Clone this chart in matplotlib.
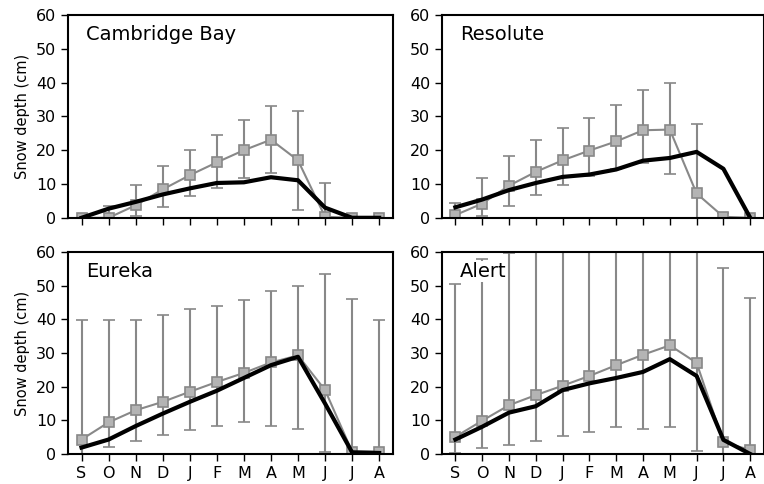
import numpy as np
import matplotlib
matplotlib.use("Agg")
import matplotlib.pyplot as plt

months = ["S", "O", "N", "D", "J", "F", "M", "A", "M", "J", "J", "A"]
stations = ["Cambridge Bay", "Resolute", "Eureka", "Alert"]

# gray series (obs mean) with error bar limits, black series (model)
cb_mean = [0.0, 0.0, 3.7, 8.4, 12.6, 16.4, 20.0, 23.1, 17.0, 0.3, 0.0, 0.0]
cb_low = [0.0, 0.0, 0.5, 3.3, 6.4, 8.9, 11.9, 13.3, 2.3, 0.0, 0.0, 0.0]
cb_high = [0.0, 3.5, 9.8, 15.2, 20.0, 24.6, 29.0, 33.2, 31.5, 10.4, 0.0, 0.0]
cb_model = [0.0, 2.7, 4.7, 6.9, 8.7, 10.3, 10.5, 12.0, 11.1, 3.0, 0.0, 0.0]

re_mean = [0.8, 4.2, 9.5, 13.6, 17.0, 19.9, 22.6, 25.9, 26.1, 7.2, 0.3, 0.0]
re_low = [0.0, 0.5, 3.6, 6.6, 9.6, 12.5, 14.5, 16.2, 13.1, 0.0, 0.0, 0.0]
re_high = [4.4, 11.8, 18.2, 22.9, 26.7, 29.5, 33.4, 37.7, 39.9, 27.7, 1.5, 0.0]
re_model = [3.1, 5.4, 8.2, 10.3, 12.1, 12.8, 14.3, 16.9, 17.7, 19.5, 14.5, 0.0]

eu_mean = [4.3, 9.4, 13.0, 15.5, 18.5, 21.4, 24.1, 27.2, 29.3, 19.0, 0.7, 0.7]
eu_low = [0.0, 2.2, 4.0, 5.6, 7.1, 8.4, 9.5, 8.4, 7.5, 0.7, 0.0, 0.0]
eu_high = [39.9, 39.9, 39.9, 41.2, 43.1, 43.9, 45.9, 48.4, 49.8, 53.5, 46.2, 39.9]
eu_model = [1.9, 4.3, 8.3, 12.0, 15.5, 18.8, 22.6, 26.4, 28.9, 15.0, 0.5, 0.3]

al_mean = [5.1, 9.9, 14.5, 17.5, 20.3, 23.2, 26.4, 29.5, 32.3, 27.1, 3.5, 1.2]
al_low = [0.4, 1.9, 2.7, 4.0, 5.3, 6.5, 8.0, 7.4, 7.9, 1.0, 0.0, 0.0]
al_high = [50.6, 58.0, 59.8, 64.0, 66.0, 67.0, 68.0, 70.0, 72.0, 75.0, 55.3, 46.3]
al_model = [4.3, 8.1, 12.3, 14.2, 19.0, 21.0, 22.6, 24.4, 28.2, 23.2, 4.2, 0.0]

data = [
    (cb_mean, cb_low, cb_high, cb_model),
    (re_mean, re_low, re_high, re_model),
    (eu_mean, eu_low, eu_high, eu_model),
    (al_mean, al_low, al_high, al_model),
]

fig = plt.figure(figsize=(7.64, 4.84), dpi=100)
positions = [
    [0.089, 0.550, 0.425, 0.419],
    [0.5785, 0.550, 0.421, 0.419],
    [0.089, 0.062, 0.425, 0.417],
    [0.5785, 0.062, 0.421, 0.417],
]

x = np.arange(len(months))
gray = "#888888"

for i, (name, pos, (mean, low, high, model)) in enumerate(zip(stations, positions, data)):
    ax = fig.add_axes(pos)
    mean = np.array(mean)
    yerr = [mean - np.array(low), np.array(high) - mean]
    ax.errorbar(x, mean, yerr=yerr, color=gray, ecolor=gray, lw=1.5,
                elinewidth=1.5, capsize=4, capthick=1.2, marker="s",
                markersize=7, markerfacecolor="#b4b4b4",
                markeredgecolor=gray, markeredgewidth=1.2, zorder=2)
    ax.plot(x, model, color="black", lw=3, zorder=3)
    ax.set_xlim(-0.5, 11.5)
    ax.set_ylim(0, 60)
    ax.set_yticks(range(0, 61, 10))
    ax.set_xticks(x)
    if i >= 2:
        ax.set_xticklabels(months)
    else:
        ax.set_xticklabels([])
    if i % 2 == 0:
        ax.set_ylabel("Snow depth (cm)", fontsize=10.5)
    ax.tick_params(direction="out", length=5, width=1, labelsize=11.5,
                   top=False, right=False)
    for s in ax.spines.values():
        s.set_linewidth(1.5)
    ax.text(0.055, 0.95, name, transform=ax.transAxes, fontsize=14,
            va="top", ha="left", zorder=5,
            bbox=dict(facecolor="white", edgecolor="none", pad=0.5))

plt.savefig("out.png", dpi=100)
